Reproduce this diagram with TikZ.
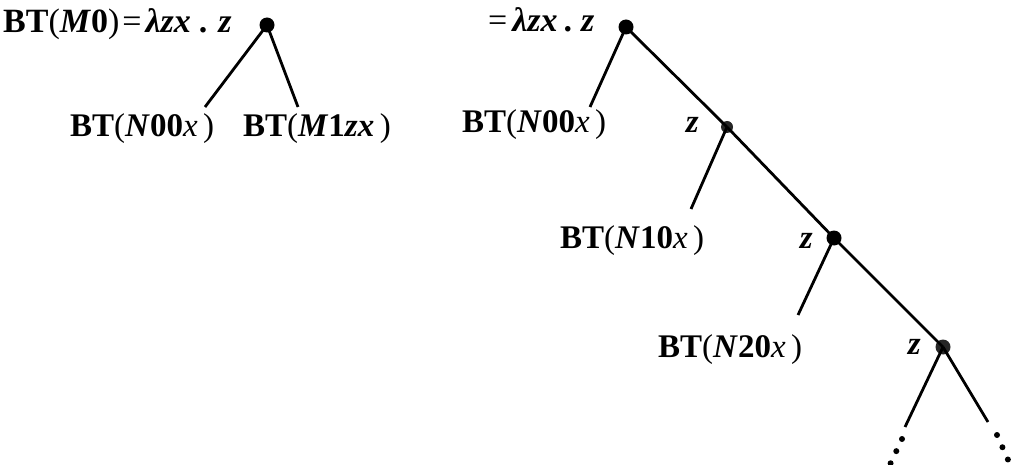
\documentclass[tikz,border=0pt]{standalone}
\usepackage{fontspec}
\setmainfont{Liberation Serif}
\newcommand{\bi}[1]{\textbf{\textit{#1}}}
\begin{document}
\begin{tikzpicture}[x=1pt,y=-1pt,
  lbl/.style={inner sep=0pt,font=\fontsize{33}{40}\selectfont},
  head/.style={inner sep=0pt,font=\fontsize{34}{40}\selectfont},
  dotnode/.style={circle,fill=black,inner sep=0pt,minimum size=15pt},
  smalldot/.style={circle,fill=black!85,inner sep=0pt,minimum size=12pt},
  edge/.style={line width=2.8pt},
  contdots/.style={line width=6pt,line cap=round,dash pattern=on 0pt off 13.4pt}]
\useasboundingbox (0,0) rectangle (1017,465);

% left tree: one unfolding step
\node[dotnode] (r1) at (267,25) {};
\node[head,anchor=base west] (h1) at (3,33) {\textbf{BT}(\bi{M}\textbf{0})\hspace{3pt}=\hspace{4pt}\bi{λzx}\hspace{8pt}\textbf{.}\hspace{11pt}\bi{z}};
\coordinate (a1) at (205,107);
\coordinate (b1) at (298,107);
\draw[edge] (r1.center) -- (a1);
\draw[edge] (r1.center) -- (b1);
\node[lbl,anchor=base west] (l1) at (70,137) {\textbf{BT}(\bi{N}\textbf{00}\textit{x}\,)};
\node[lbl,anchor=base west] (m1) at (243,137) {\textbf{BT}(\bi{M}\textbf{1}\bi{zx}\,)};

% right tree: the full infinite unfolding
\node[dotnode] (r2) at (626,27) {};
\node[head,anchor=base west] (h2) at (488,32) {=\hspace{5pt}\bi{λzx}\hspace{6pt}\textbf{.}\hspace{9pt}\bi{z}};
\coordinate (a2) at (590,107);
\node[lbl,anchor=base west] (l2) at (462,133) {\textbf{BT}(\bi{N}\textbf{00}\textit{x}\,)};

\node[smalldot] (n2) at (727,127) {};
\node[lbl,anchor=base east] (z2) at (699,133) {\bi{z}};
\coordinate (a3) at (691,209);
\node[lbl,anchor=base west] (l3) at (560,248) {\textbf{BT}(\bi{N}\textbf{10}\textit{x}\,)};

\node[dotnode] (n3) at (834,238) {};
\node[lbl,anchor=base east] (z3) at (813,248) {\bi{z}};
\coordinate (a4) at (798,315);
\node[lbl,anchor=base west] (l4) at (658,357) {\textbf{BT}(\bi{N}\textbf{20}\textit{x}\,)};

\node[smalldot,minimum size=15pt] (n4) at (943,347) {};
\node[lbl,anchor=base east] (z4) at (921,354) {\bi{z}};
\coordinate (a5) at (905,427);
\coordinate (b5) at (988,422);

\draw[edge] (r2.center) -- (a2);
\draw[edge] (r2.center) -- (n2.center);
\draw[edge] (n2.center) -- (a3);
\draw[edge] (n2.center) -- (n3.center);
\draw[edge] (n3.center) -- (a4);
\draw[edge] (n3.center) -- (n4.center);
\draw[edge] (n4.center) -- (a5);
\draw[edge] (n4.center) -- (b5);

% the branches continue without end
\coordinate (da) at (902,439);
\coordinate (db) at (886,473);
\coordinate (dc) at (997,435);
\coordinate (dd) at (1013,471);
\draw[contdots] (da) -- (db);
\draw[contdots] (dc) -- (dd);
\end{tikzpicture}
\end{document}
